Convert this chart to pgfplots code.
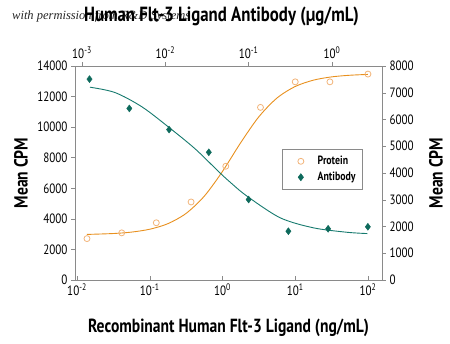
\documentclass[border=0pt]{standalone}
\usepackage{pgfplots}
\pgfplotsset{compat=1.18}
\usepackage{fontspec}
\setmainfont{PT Sans}[FakeStretch=0.82]
\newfontfamily\wmfont{Liberation Serif}
\definecolor{prot}{HTML}{E8901E}
\definecolor{protm}{HTML}{F2B47A}
\definecolor{anti}{HTML}{167A6E}
\definecolor{antim}{HTML}{0E6A5C}
\definecolor{axisgray}{HTML}{8A8A8A}
\pgfplotsset{
  padlegend/.style={legend image code/.code={\path[draw=none,fill=none] (-0.55cm,-0.28cm) rectangle (0.45cm,0.28cm);
    \draw[only marks,##1] plot coordinates {(0cm,0cm)};}},
  myaxisbase/.style={
    scale only axis, width=307pt, height=214pt,
    at={(0,0)}, anchor=south west,
    ymin=0, scaled y ticks=false,
    axis line style={axisgray, line width=0.6pt},
    tick style={axisgray, line width=0.5pt},
    major tick length=4pt, minor tick length=2.5pt,
    tick label style={font=\fontsize{13.5}{13.5}\selectfont, black},
    /pgf/number format/assume math mode=true,
    /pgf/number format/1000 sep={},
    xticklabel={10\textsuperscript{\pgfmathprintnumber[int detect]{\tick}}},
    label style={font=\fontsize{19}{19}\selectfont\bfseries, black},
  }
}
\begin{document}
\begin{tikzpicture}
\path[use as bounding box] (-75pt,-63pt) rectangle (375pt,280pt);
\node[anchor=west, inner sep=0pt, font=\wmfont\itshape\fontsize{12.5}{12.5}\selectfont, text=black!85] at (-63pt,264pt) {with permission from R\&D Systems};
% Protein: bottom x, left y
\begin{axis}[myaxisbase,
  xmode=log, log basis x=10,
  xmin=0.00938, xmax=156,
  ymax=14000, ytick={0,2000,...,14000},
  xtick={0.01,0.1,1,10,100},
  axis x line*=bottom, axis y line*=left,
  xtick align=inside, ytick align=outside,
  xlabel={Recombinant Human Flt-3 Ligand (ng/mL)},
  ylabel={Mean CPM},
  xlabel style={at={(axis description cs:0.5,-0.224)}, anchor=center},
  ylabel style={at={(axis description cs:-0.176,0.5)}, anchor=center},
]
\addplot[prot, line width=0.9pt, smooth, no marks, forget plot] coordinates {
(0.0137,2982) (0.03162,3041) (0.05623,3134) (0.1,3322) (0.1778,3686)
(0.3162,4358) (0.5623,5485) (1,7104) (1.778,8978) (3.162,10678)
(5.623,11907) (10,12659) (17.78,13073) (31.62,13288) (56.23,13395) (100,13449)
};
\addplot[only marks, mark=o, mark size=3pt, color=protm, mark options={line width=0.8pt}] coordinates {
(0.0137,2708) (0.0412,3084) (0.123,3744) (0.370,5105) (1.11,7443)
(3.33,11293) (10,12964) (30,12964) (100,13472)
};
\end{axis}
% Antibody: top x, right y
\begin{axis}[myaxisbase,
  xmode=log, log basis x=10,
  xmin=0.000824, xmax=3.99,
  ymax=8000, ytick={0,1000,...,8000},
  xtick={0.001,0.01,0.1,1},
  axis x line*=top, axis y line*=right,
  xtick align=outside, ytick align=outside,
  xlabel={Human Flt-3 Ligand Antibody (\textmu g/mL)},
  ylabel={Mean CPM},
  xlabel style={at={(axis description cs:0.5,1.23)}, anchor=center, xshift=-7pt,
    font=\fontsize{20.5}{20.5}\selectfont\bfseries},
  ylabel style={at={(axis description cs:1.176,0.5)}, anchor=center},
  legend style={at={(axis description cs:0.674,0.612)}, anchor=north west,
    draw=axisgray, line width=0.6pt, font=\fontsize{12}{13}\selectfont\bfseries,
    row sep=0pt, inner ysep=4pt, nodes={inner xsep=4pt}},
  legend cell align=left,
]
\addlegendimage{only marks, mark=o, mark size=3pt, color=protm, mark options={line width=0.8pt}, padlegend}
\addlegendentry{Protein\hspace{7pt}}
\addplot[anti, line width=0.9pt, smooth, no marks, forget plot] coordinates {
(0.001247,7208) (0.002489,7008) (0.005212,6479) (0.01086,5725) (0.02275,4906)
(0.04325,4064) (0.05984,3660) (0.09484,3143) (0.2382,2328) (0.5984,1951)
(1.507,1785) (2.661,1736)
};
\addplot[only marks, mark=diamond*, mark size=3.5pt, color=antim, padlegend] coordinates {
(0.00123,7509) (0.0037,6415) (0.0111,5623) (0.0333,4774) (0.1,3008)
(0.3,1823) (0.9,1913) (2.7,1989)
};
\addlegendentry{Antibody\hspace{7pt}}
\end{axis}
\end{tikzpicture}
\end{document}
